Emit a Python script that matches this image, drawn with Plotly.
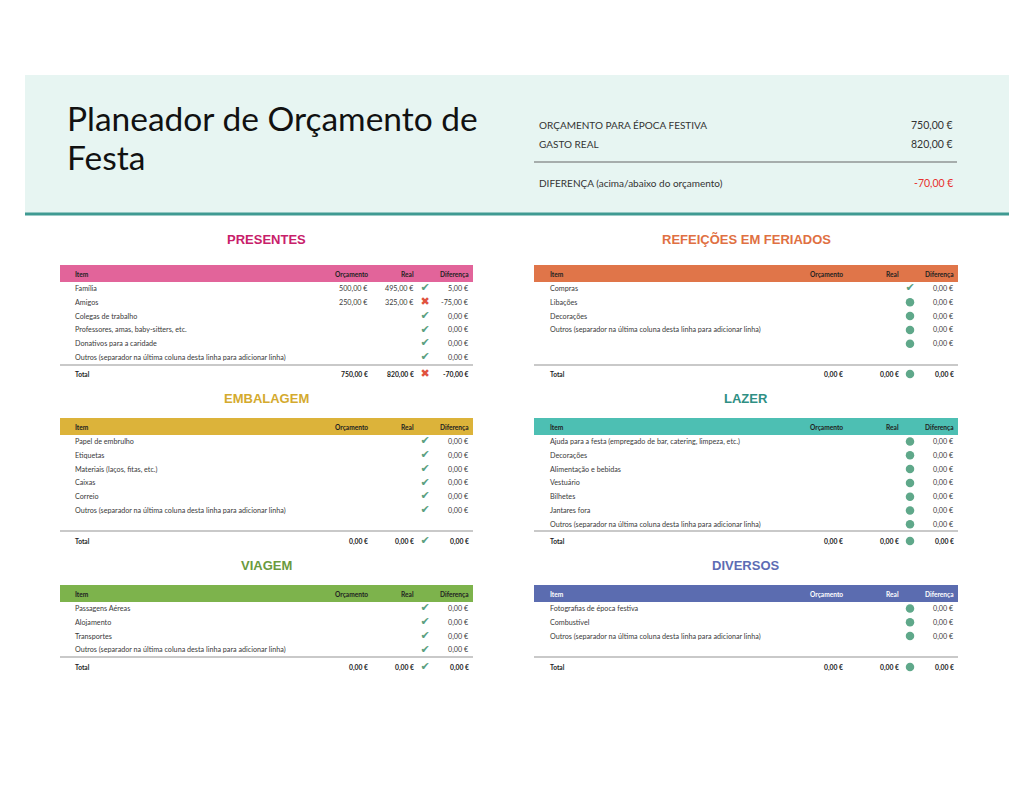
import plotly.graph_objects as go

# ---------------- DATA ----------------
title_lines = ["Planeador de Orçamento de", "Festa"]
summary_labels = ["ORÇAMENTO PARA ÉPOCA FESTIVA", "GASTO REAL", "DIFERENÇA (acima/abaixo do orçamento)"]
summary_values = [750.00, 820.00, -70.00]

col_headers = ["Item", "Orçamento", "Real", "Diferença"]
OUT = "Outros (separador na última coluna desta linha para adicionar linha)"

presentes_items = ["Família", "Amigos", "Colegas de trabalho", "Professores, amas, baby-sitters, etc.",
                   "Donativos para a caridade", OUT]
presentes_orc = [500.00, 250.00, None, None, None, None]
presentes_real = [495.00, 325.00, None, None, None, None]
presentes_dif = [5.00, -75.00, 0.00, 0.00, 0.00, 0.00]
presentes_icon = ["check", "cross", "check", "check", "check", "check"]
presentes_total = [750.00, 820.00, -70.00, "cross"]

refeicoes_items = ["Compras", "Libações", "Decorações", OUT, ""]
refeicoes_orc = [None] * 5
refeicoes_real = [None] * 5
refeicoes_dif = [0.00, 0.00, 0.00, 0.00, 0.00]
refeicoes_icon = ["check", "dot", "dot", "dot", "dot"]
refeicoes_total = [0.00, 0.00, 0.00, "dot"]

embalagem_items = ["Papel de embrulho", "Etiquetas", "Materiais (laços, fitas, etc.)", "Caixas", "Correio", OUT]
embalagem_orc = [None] * 6
embalagem_real = [None] * 6
embalagem_dif = [0.00, 0.00, 0.00, 0.00, 0.00, 0.00]
embalagem_icon = ["check"] * 6
embalagem_total = [0.00, 0.00, 0.00, "check"]

lazer_items = ["Ajuda para a festa (empregado de bar, catering, limpeza, etc.)", "Decorações",
               "Alimentação e bebidas", "Vestuário", "Bilhetes", "Jantares fora", OUT]
lazer_orc = [None] * 7
lazer_real = [None] * 7
lazer_dif = [0.00, 0.00, 0.00, 0.00, 0.00, 0.00, 0.00]
lazer_icon = ["dot"] * 7
lazer_total = [0.00, 0.00, 0.00, "dot"]

viagem_items = ["Passagens Aéreas", "Alojamento", "Transportes", OUT]
viagem_orc = [None] * 4
viagem_real = [None] * 4
viagem_dif = [0.00, 0.00, 0.00, 0.00]
viagem_icon = ["check"] * 4
viagem_total = [0.00, 0.00, 0.00, "check"]

diversos_items = ["Fotografias de época festiva", "Combustível", OUT]
diversos_orc = [None] * 3
diversos_real = [None] * 3
diversos_dif = [0.00, 0.00, 0.00]
diversos_icon = ["dot"] * 3
diversos_total = [0.00, 0.00, 0.00, "dot"]

section_names = ["PRESENTES", "REFEIÇÕES EM FERIADOS", "EMBALAGEM", "LAZER", "VIAGEM", "DIVERSOS"]

# ---------------- STYLE / LAYOUT ----------------
FONT = "Lato"
TXT = "#3a3a3a"
CHECK_C = "#5b9f80"
CROSS_C = "#e0533e"
DOT_C = "#5fa88a"

title_colors = ["#c8206a", "#e07042", "#d4aa2e", "#2f8f84", "#6a9a3e", "#5d6cb4"]
bar_colors = ["#e2649a", "#e07549", "#dcb33a", "#4dbfb3", "#7db34c", "#5b6cb0"]
bar_text = ["#222", "#222", "#222", "#222", "#222", "#ffffff"]

# placement: (left x0, x1, title_y, header_top, line_y, total_y)
placements = [
    (60, 473, 239, 265, 365, 374),
    (534, 958, 239, 265, 365, 374),
    (60, 473, 398, 418, 531, 541),
    (534, 958, 398, 418, 531, 541),
    (60, 473, 565, 585, 657, 667),
    (534, 958, 565, 585, 657, 667),
]
orc_offsets = [103, 113, 103, 113, 103, 113]

sections = [
    (presentes_items, presentes_orc, presentes_real, presentes_dif, presentes_icon, presentes_total),
    (refeicoes_items, refeicoes_orc, refeicoes_real, refeicoes_dif, refeicoes_icon, refeicoes_total),
    (embalagem_items, embalagem_orc, embalagem_real, embalagem_dif, embalagem_icon, embalagem_total),
    (lazer_items, lazer_orc, lazer_real, lazer_dif, lazer_icon, lazer_total),
    (viagem_items, viagem_orc, viagem_real, viagem_dif, viagem_icon, viagem_total),
    (diversos_items, diversos_orc, diversos_real, diversos_dif, diversos_icon, diversos_total),
]


def eur(v):
    s = f"{abs(v):,.2f}".replace(",", " ").replace(".", ",").replace(" ", ".")
    return ("-" if v < 0 else "") + s + " €"


annotations = []
shapes = []
icons = {"check": ([], []), "cross": ([], []), "dot": ([], [])}


def txt(x, y, text, size=7.2, color=TXT, anchor="left", bold=False, family=FONT):
    annotations.append(dict(
        x=x, y=y, xref="x", yref="y", text=(f"<b>{text}</b>" if bold else text),
        showarrow=False, xanchor=anchor, yanchor="middle",
        font=dict(family=family, size=size, color=color)))


# header band
shapes.append(dict(type="rect", x0=25, x1=1009, y0=75, y1=213, xref="x", yref="y",
                   fillcolor="#e7f5f2", line=dict(width=0), layer="below"))
shapes.append(dict(type="line", x0=25, x1=1009, y0=214, y1=214, xref="x", yref="y",
                   line=dict(color="#3f9a92", width=3)))

txt(65, 118, title_lines[0], size=33.5, color="#111", family="Lato")
txt(65, 157, title_lines[1], size=33.5, color="#111", family="Lato")

sum_y = [125, 144, 183]
for lab, val, yy in zip(summary_labels, summary_values, sum_y):
    txt(537, yy, lab, size=10, color="#333")
    txt(955, yy, eur(val), size=10.5, color=("#e8302f" if val < 0 else "#333"), anchor="right")
shapes.append(dict(type="line", x0=534, x1=957, y0=162, y1=162, xref="x", yref="y",
                   line=dict(color="#666", width=1.2)))

ROW_STEP = 13.8
for i, (sec, pl) in enumerate(zip(sections, placements)):
    items, orc, real, dif, icn, tot = sec
    x0, x1, ty, htop, ly, toty = pl
    xc = (x0 + x1) / 2
    txt(xc, ty, section_names[i], size=13, color=title_colors[i], anchor="center", bold=True,
        family="Liberation Sans")
    shapes.append(dict(type="rect", x0=x0, x1=x1, y0=htop, y1=htop + 17, xref="x", yref="y",
                       fillcolor=bar_colors[i], line=dict(width=0), layer="below"))
    hy = htop + 8.5
    item_x = x0 + 13 if i % 2 == 0 else x0 + 14
    orc_r = x1 - orc_offsets[i]
    real_r = x1 - 57
    icon_x = x1 - 50
    dif_r = x1 - 2
    hc = bar_text[i]
    txt(item_x, hy, col_headers[0], size=6.6, color=hc, bold=True)
    txt(orc_r, hy, col_headers[1], size=6.6, color=hc, bold=True, anchor="right")
    txt(real_r, hy, col_headers[2], size=6.6, color=hc, bold=True, anchor="right")
    txt(dif_r, hy, col_headers[3], size=6.6, color=hc, bold=True, anchor="right")
    for r in range(len(items)):
        ry = htop + 23.5 + r * ROW_STEP
        if items[r]:
            txt(item_x, ry, items[r])
        if orc[r] is not None:
            txt(orc_r, ry, eur(orc[r]), anchor="right")
        if real[r] is not None:
            txt(real_r, ry, eur(real[r]), anchor="right")
        txt(dif_r, ry, eur(dif[r]), anchor="right")
        icons[icn[r]][0].append(icon_x + 2)
        icons[icn[r]][1].append(ry)
    shapes.append(dict(type="line", x0=x0, x1=x1, y0=ly, y1=ly, xref="x", yref="y",
                       line=dict(color="#c9c9c9", width=2)))
    txt(item_x, toty, "Total", size=6.6, color="#222", bold=True)
    txt(orc_r, toty, eur(tot[0]), size=6.8, color="#222", bold=True, anchor="right")
    txt(real_r, toty, eur(tot[1]), size=6.8, color="#222", bold=True, anchor="right")
    txt(dif_r, toty, eur(tot[2]), size=6.8, color="#222", bold=True, anchor="right")
    icons[tot[3]][0].append(icon_x + 2)
    icons[tot[3]][1].append(toty)

fig = go.Figure()
fig.add_trace(go.Scatter(x=icons["check"][0], y=icons["check"][1], mode="text", text=["✔"] * len(icons["check"][0]),
                         textfont=dict(family="DejaVu Sans", size=11, color=CHECK_C), hoverinfo="skip"))
fig.add_trace(go.Scatter(x=icons["cross"][0], y=icons["cross"][1], mode="text", text=["✖"] * len(icons["cross"][0]),
                         textfont=dict(family="DejaVu Sans", size=11, color=CROSS_C), hoverinfo="skip"))
fig.add_trace(go.Scatter(x=icons["dot"][0], y=icons["dot"][1], mode="markers",
                         marker=dict(size=8.5, color=DOT_C, line=dict(width=0)), hoverinfo="skip"))

# the page body adds an 8px margin; shift the axis ranges so page pixels match data units
OFF = 8
fig.update_layout(
    width=1034, height=800, margin=dict(l=0, r=0, t=0, b=0),
    paper_bgcolor="white", plot_bgcolor="white", showlegend=False,
    xaxis=dict(range=[OFF, 1034 + OFF], visible=False, fixedrange=True),
    yaxis=dict(range=[800 + OFF, OFF], visible=False, fixedrange=True),
    annotations=annotations, shapes=shapes,
)
fig.write_html("out.html")
